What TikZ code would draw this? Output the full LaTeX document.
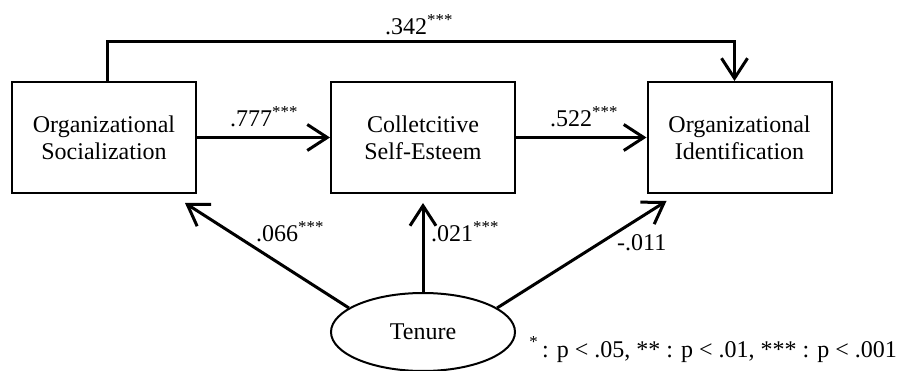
\documentclass[tikz,border=0pt]{standalone}
\usepackage{fontspec}
\setmainfont{Liberation Serif}
\usetikzlibrary{arrows.meta,calc,shapes.geometric}
\begin{document}
\begin{tikzpicture}[x=1pt,y=-1pt,
  font=\fontsize{24}{27}\selectfont,
  box/.style={draw,line width=2pt,minimum width=184pt,minimum height=111pt,align=center,inner sep=0pt},
  arr/.style={line width=3pt,-{Straight Barb[length=20pt,width=26pt,line width=3pt]}},
  lab/.style={anchor=base west,inner sep=0pt}]
\useasboundingbox (0,0) rectangle (899,371);
\node[box] (os) at (104,137.5) {Organizational\\Socialization};
\node[box] (cs) at (423,137.5) {Colletcitive\\Self-Esteem};
\node[box] (oi) at (739.5,137.5) {Organizational\\Identification};
\node[draw,ellipse,line width=2pt,minimum width=184pt,minimum height=78pt,inner sep=0pt] (ten) at (423,332) {Tenure};
\draw[arr] (os) -- (cs);
\draw[arr] (cs) -- (oi);
\draw[arr] ([xshift=3pt]os.north) -- ++(0,-39) -| ([xshift=-5pt]oi.north);
\draw[arr] (ten.162) -- ($(os.south east)+(-12,9)$);
\draw[arr] (ten.north) -- ($(cs.south)+(0,9)$);
\draw[arr] (ten.18) -- ($(oi.south west)+(20,7)$);
\node[lab] (l342) at (385,35) {.342\textsuperscript{***}};
\node[lab] (l777) at (230,127) {.777\textsuperscript{***}};
\node[lab] (l522) at (550,127) {.522\textsuperscript{***}};
\node[lab] (l066) at (256,242) {.066\textsuperscript{***}};
\node[lab] (l021) at (431,242) {.021\textsuperscript{***}};
\node[lab] (l011) at (617,251) {-.011};
\node[anchor=base east,inner sep=0pt] (note) at (897,357) {\textsuperscript{*}\,: p < .05, ** : p < .01, *** : p < .001};
\end{tikzpicture}
\end{document}
